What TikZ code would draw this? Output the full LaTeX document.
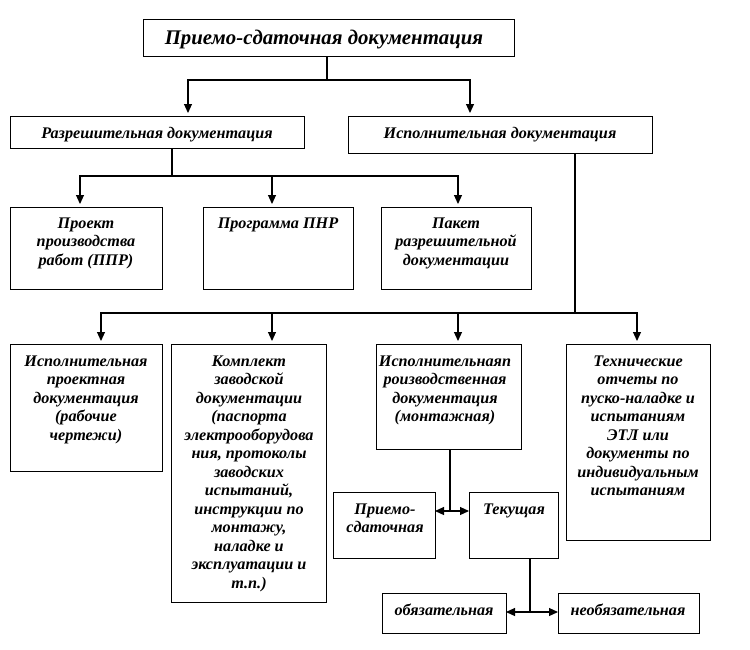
\documentclass[tikz,border=0pt]{standalone}
\usepackage{fontspec}
\setmainfont{Liberation Serif}
\usetikzlibrary{arrows.meta,calc}
\tikzset{
  box/.style={draw, line width=1pt, inner sep=0pt, outer sep=0pt, anchor=north west},
  lbl/.style={align=center, inner sep=0pt, anchor=base, font=\fontsize{16.2}{18.5}\selectfont\bfseries\itshape},
  conn/.style={line width=1.1pt},
  arr/.style={conn, -{Triangle[length=9pt,width=8pt]}, shorten >=3pt},
  darr/.style={conn, {Triangle[length=9pt,width=8pt]}-{Triangle[length=9pt,width=8pt]}},
}
\newcommand{\mkbox}[5]{% name, x1, y1, x2, y2
  \node[box, minimum width={(#4-#2)*1pt}, minimum height={(#5-#3)*1pt}] (#1) at (#2,#3) {};}
\newcommand{\mklbl}[5]{% name, x, first baseline, number of lines, text
  \node[lbl] (#1) at (#2,{#3+(#4-1)*18.5}) {#5};}
\begin{document}
\begin{tikzpicture}[x=1pt,y=-1pt]
\useasboundingbox[fill=white] (0,0) rectangle (750,649);
% boxes
\mkbox{top}{143}{19}{514}{56}
\mkbox{raz}{10}{116}{304}{148}
\mkbox{isp}{348}{116}{652}{153}
\mkbox{proj}{10}{207}{162}{289}
\mkbox{prog}{203}{207}{353}{289}
\mkbox{pak}{381}{207}{531}{289}
\mkbox{ipd}{10}{344}{162}{471}
\mkbox{kompl}{171}{344}{326}{602}
\mkbox{ispp}{376}{344}{521}{449}
\mkbox{tech}{566}{344}{710}{540}
\mkbox{pri}{333}{492}{435}{558}
\mkbox{tek}{469}{492}{558}{558}
\mkbox{obz}{382}{593}{506}{633}
\mkbox{neob}{558}{593}{699}{633}
% labels
\node[lbl, font=\fontsize{20.8}{24}\selectfont\bfseries\itshape] (topT) at (324,44) {Приемо-сдаточная документация};
\mklbl{razT}{157}{138}{1}{Разрешительная документация}
\mklbl{ispT}{500}{138}{1}{Исполнительная документация}
\mklbl{projT}{86}{228}{3}{Проект\\производства\\работ (ППР)}
\mklbl{progT}{278}{228}{1}{Программа ПНР}
\mklbl{pakT}{456}{228}{3}{Пакет\\разрешительной\\документации}
\mklbl{ipdT}{86}{366}{5}{Исполнительная\\проектная\\документация\\(рабочие\\чертежи)}
\mklbl{komplT}{249}{366}{13}{Комплект\\заводской\\документации\\(паспорта\\электрооборудова\\ния, протоколы\\заводских\\испытаний,\\инструкции по\\монтажу,\\наладке и\\эксплуатации и\\т.п.)}
\mklbl{isppT}{445}{366}{4}{Исполнительнаяп\\роизводственная\\документация\\(монтажная)}
\mklbl{techT}{638}{366}{8}{Технические\\отчеты по\\пуско-наладке и\\испытаниям\\ЭТЛ или\\документы по\\индивидуальным\\испытаниям}
\mklbl{priT}{385}{514}{2}{Приемо-\\сдаточная}
\mklbl{tekT}{514}{514}{1}{Текущая}
\mklbl{obzT}{444}{615}{1}{обязательная}
\mklbl{neobT}{628}{615}{1}{необязательная}
% junction coordinates
\coordinate (j1) at (327,80);
\coordinate (j2) at (172,176);
\coordinate (j3) at (575,313);
% connectors level 1
\draw[conn] (top.south -| j1) -- (j1);
\draw[arr] (j1) -| (raz.north -| 188,0);
\draw[arr] (j1) -| (isp.north -| 470,0);
% level 2
\draw[conn] (raz.south -| j2) -- (j2);
\draw[arr] (j2) -| (proj.north -| 80,0);
\draw[arr] (j2 -| 272,0) -- (prog.north -| 272,0);
\draw[arr] (j2) -| (pak.north -| 458,0);
% level 3
\draw[conn] (isp.south -| j3) -- (j3);
\draw[arr] (j3) -| (ipd.north -| 101,0);
\draw[arr] (j3 -| 272,0) -- (kompl.north -| 272,0);
\draw[arr] (j3 -| 458,0) -- (ispp.north -| 458,0);
\draw[arr] (j3) -| (tech.north -| 637,0);
% lower connectors
\coordinate (j4) at (450,511);
\draw[darr] (pri.east |- j4) -- (tek.west |- j4);
\draw[conn] (ispp.south -| j4) -- (j4);
\coordinate (j5) at (530,612);
\draw[darr] (obz.east |- j5) -- (neob.west |- j5);
\draw[conn] (tek.south -| j5) -- (j5);
\end{tikzpicture}
\end{document}
